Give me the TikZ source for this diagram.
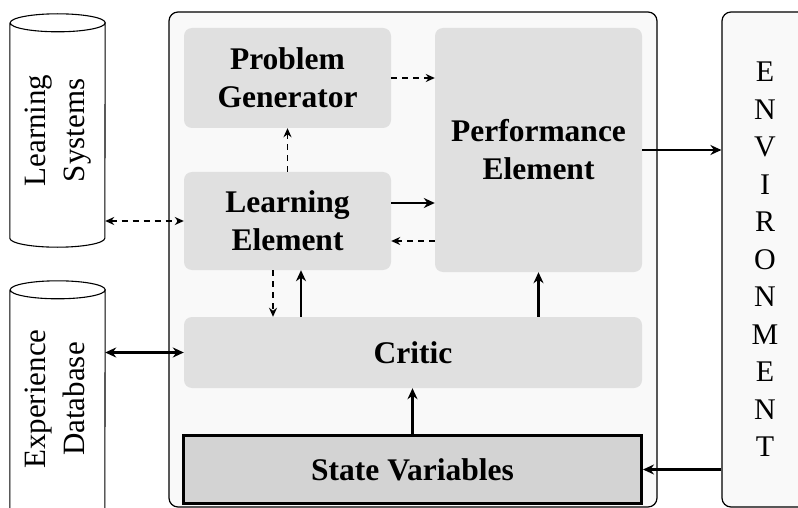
\documentclass[tikz,border=0pt]{standalone}
\usepackage{fontspec}
\setmainfont{Liberation Serif}
\usetikzlibrary{arrows.meta}
\definecolor{panelgray}{HTML}{F9F9F9}
\definecolor{boxgray}{HTML}{E0E0E0}
\definecolor{stategray}{HTML}{D3D3D3}

\begin{document}
\begin{tikzpicture}[x=1pt,y=-1pt,
        box/.style={fill=boxgray,rounded corners=8pt,inner sep=0pt,align=center,font=\fontsize{31.5}{38}\selectfont\bfseries},
        panel/.style={draw,fill=panelgray,rounded corners=9pt,line width=1.2pt,inner sep=0pt,minimum height=495pt},
        cyl/.style={inner sep=0pt,minimum width=95pt,font=\fontsize{31}{39}\selectfont},
        cylline/.style={line width=1.1pt},
        solidarrow/.style={line width=2.6pt,-{Stealth[length=11pt,width=10pt]}},
        solidboth/.style={line width=2.6pt,{Stealth[length=11pt,width=10pt]}-{Stealth[length=11pt,width=10pt]}},
        dasharrow/.style={line width=1.6pt,dash pattern=on 6pt off 5pt,-{Stealth[length=9pt,width=8pt]}},
        dashboth/.style={line width=1.6pt,dash pattern=on 6pt off 5pt,{Stealth[length=9pt,width=8pt]}-{Stealth[length=9pt,width=8pt]}}]
    \path[use as bounding box] (0,0) rectangle (798,508);

    \node[panel,minimum width=488pt] (agent) at (413,259.5) {};
    \node[panel,minimum width=86pt,align=center,font=\fontsize{30}{37.5}\selectfont] (env) at (765,259.5)
        {E\\N\\V\\I\\R\\O\\N\\M\\E\\N\\T};

    \node[box,minimum width=207pt,minimum height=100pt] (pgen) at (287.5,78) {Problem\\Generator};
    \node[box,minimum width=207pt,minimum height=244pt] (perf) at (538.5,150) {Performance\\Element};
    \node[box,minimum width=207pt,minimum height=98pt] (lelem) at (287.5,221) {Learning\\Element};
    \node[box,minimum width=458pt,minimum height=71pt] (critic) at (413,352.5) {Critic};
    \node[box,fill=stategray,draw,line width=3pt,rounded corners=0pt,minimum width=458pt,minimum height=68pt] (statev) at (412.5,469.5) {State Variables};

    \node[cyl,minimum height=215pt] (lsys) at (57.5,130.5)
        {\rotatebox{90}{\begin{tabular}{@{}c@{}}Learning\\Systems\end{tabular}}};
    \draw[cylline] (lsys.north west) -- (lsys.south west)
        arc[start angle=180,end angle=360,x radius=47.5pt,y radius=9pt] -- (lsys.north east)
        arc[start angle=0,end angle=360,x radius=47.5pt,y radius=9pt];
    \node[cyl,minimum height=218pt] (edb) at (57.5,399)
        {\rotatebox{90}{\begin{tabular}{@{}c@{}}Experience\\Database\end{tabular}}};
    \draw[cylline] (edb.north west) -- (edb.south west)
        arc[start angle=180,end angle=360,x radius=47.5pt,y radius=9pt] -- (edb.north east)
        arc[start angle=0,end angle=360,x radius=47.5pt,y radius=9pt];

    \draw[dasharrow] (pgen.east) -- (pgen.east -| perf.west);
    \draw[dasharrow] (lelem.north) -- (pgen.south);
    \draw[solidarrow] ([yshift=18pt]lelem.east) -- ([yshift=18pt]lelem.east -| perf.west);
    \draw[dasharrow] ([yshift=-20pt]lelem.east -| perf.west) -- ([yshift=-20pt]lelem.east);
    \draw[dasharrow] ([xshift=-14.5pt]lelem.south) -- ([xshift=-14.5pt]lelem.south |- critic.north);
    \draw[solidarrow] ([xshift=13.5pt]lelem.south |- critic.north) -- ([xshift=13.5pt]lelem.south);
    \draw[solidarrow] (perf.south |- critic.north) -- (perf.south);
    \draw[solidarrow] (statev.north) -- (statev.north |- critic.south);
    \draw[solidarrow] (perf.east) -- (perf.east -| env.west);
    \draw[solidarrow] (statev.east -| env.west) -- (statev.east);
    \draw[dashboth] (lsys.east |- lelem.west) -- (lelem.west);
    \draw[solidboth] (edb.east |- critic.west) -- (critic.west);
\end{tikzpicture}
\end{document}
